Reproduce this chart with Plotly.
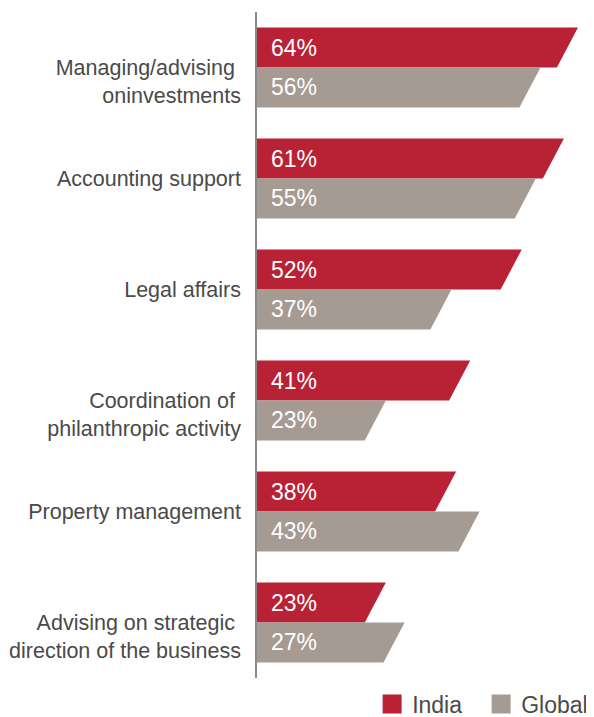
import plotly.graph_objects as go

categories = [
    "&nbsp;<br>Managing/advising&nbsp;<br>oninvestments",
    "Accounting support",
    "Legal affairs",
    "&nbsp;<br>Coordination of&nbsp;<br>philanthropic activity",
    "Property management",
    "&nbsp;<br>Advising on strategic&nbsp;<br>direction of the business",
]
india = [64, 61, 52, 41, 38, 23]
global_ = [56, 55, 37, 23, 43, 27]
series_names = ["India", "Global"]
colors = ["#B92135", "#A69B92"]

BAR_H = 0.36      # bar thickness in category units
SLANT = 4.5       # horizontal offset of slanted tip in value units
FONT = "Liberation Sans, Arial"

fig = go.Figure()

for si, (vals, name, col) in enumerate(zip([india, global_], series_names, colors)):
    xs, ys = [], []
    for i, v in enumerate(vals):
        top = i - BAR_H + si * BAR_H
        bot = top + BAR_H
        xs += [0, v + SLANT, v, 0, 0, None]
        ys += [top, top, bot, bot, top, None]
        fig.add_annotation(x=0, y=(top + bot) / 2, text=f"{v}%", showarrow=False,
                           xanchor="left", xshift=12, yanchor="middle",
                           font=dict(size=23, color="white", family=FONT))
    fig.add_trace(go.Scatter(x=xs, y=ys, fill="toself", fillcolor=col, mode="none",
                             hoverinfo="skip", showlegend=False))
    fig.add_trace(go.Scatter(x=[None], y=[None], mode="markers", name=name,
                             marker=dict(symbol="square", size=16, color=col,
                                         line=dict(width=3, color=col))))

fig.update_layout(
    width=586, height=709,
    margin=dict(l=249, r=9, t=4, b=39, autoexpand=False),
    paper_bgcolor="white", plot_bgcolor="white",
    font=dict(family=FONT, size=21.5, color="#4a4a4a"),
    xaxis=dict(range=[0, 70], visible=False, fixedrange=True),
    yaxis=dict(range=[5.5, -0.5], tickvals=list(range(len(categories))), ticktext=categories,
               showline=True, linecolor="#8a8a8a", linewidth=1.5, showgrid=False,
               zeroline=False, ticks="", ticklabelstandoff=10, automargin=False,
               tickfont=dict(size=21.5, color="#4a4a4a")),
    legend=dict(orientation="h", x=0.351, xanchor="left", y=-0.039, yanchor="middle",
                font=dict(size=23, color="#4a4a4a"), itemsizing="trace",
                entrywidth=64, entrywidthmode="pixels",
                traceorder="normal", bgcolor="rgba(0,0,0,0)"),
    showlegend=True,
)

fig.write_html("out.html")
